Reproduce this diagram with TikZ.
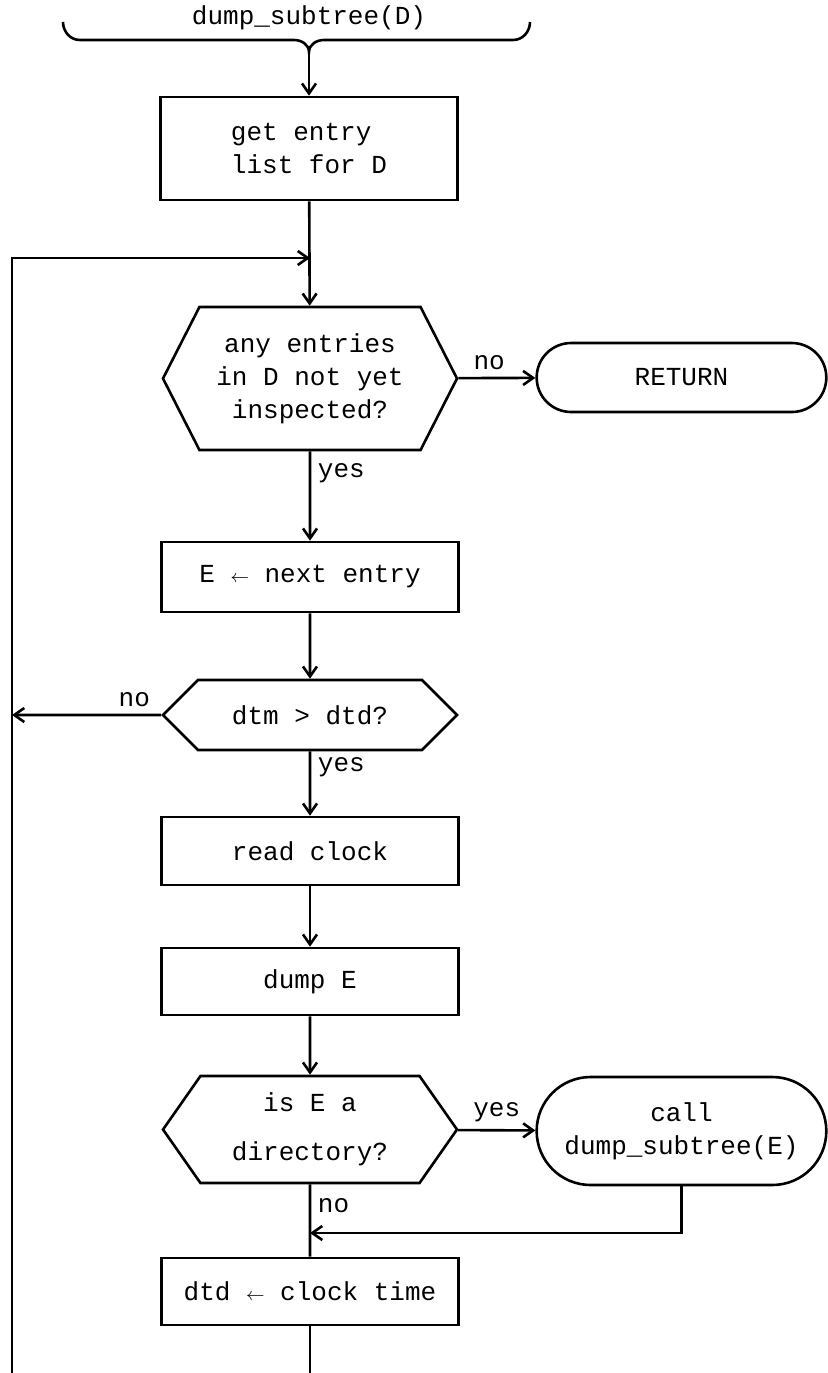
\documentclass[tikz,border=0pt]{standalone}
\usepackage{fontspec}
\setmonofont{Liberation Mono}
\usepackage{tikz}
\usetikzlibrary{arrows.meta,shapes.misc,shapes.symbols}
\tikzset{auto,
  box/.style={draw, rectangle, minimum width=148.5pt, align=center},
  test/.style={draw, signal, signal to=east and west, minimum width=147pt, align=center},
  term/.style={draw, rounded rectangle, minimum width=151.5pt, align=center}}

\begin{document}
\begin{tikzpicture}[x=0.5pt, y=-0.5pt, line width=1.3pt,
    font=\ttfamily\fontsize{13}{16.5}\selectfont,
    >={Straight Barb[length=5pt,width=7pt]}]

  \useasboundingbox (0,0) rectangle (827,1373);

  % entry brace
  \node (name) at (309,18) {dump\_subtree(D)};
  \draw (63,22) to[out=-90,in=180] (80,40) -- (294,40) to[out=0,in=90] (309,52)
        to[out=90,in=180] (324,40) -- (513,40) to[out=0,in=-90] (530,22);
  \coordinate (tip) at (309,52);

  \node (list) [box, minimum height=51.5pt, align=left] at (309,148.5) {get entry\\list for D};

  \node (any) [test, minimum height=71.5pt, signal pointer angle=126] at (310,378.5)
        {any entries\\in D not yet\\inspected?};
  \node (ret) [term, minimum height=34.5pt] at (681.5,377.5) {RETURN};

  \node (next) [box, minimum height=35pt] at (310,577) {E {\small$\leftarrow$} next entry};

  \node (dtm) [test, minimum height=35pt, signal pointer angle=90] at (310,715) {dtm > dtd?};

  \node (read) [box, minimum height=34pt] at (310,851) {read clock};
  \node (dump) [box, minimum height=33.5pt] at (310,981.5) {dump E};

  \node (dir) [test, minimum height=53.5pt, signal pointer angle=110] at (310,1129.5)
        {is E a\\[8pt]directory?};
  \node (call) [term, minimum height=54pt] at (681.5,1131) {call\\dump\_subtree(E)};

  \node (clk) [box, minimum height=33.5pt] at (310,1291.5) {dtd {\small$\leftarrow$} clock time};

  \coordinate (merge) at (310,258);
  \coordinate (loop) at (12,1373);
  \coordinate (back) at (12,715);
  \coordinate (join) at (310,1233);
  \coordinate (out) at (310,1373);

  \draw [->] (tip) to (list);
  \draw [->] (list) to (any);
  \draw [->] (loop) |- (merge);
  \draw [->] (any) to node [pos=0.4] {no} (ret);
  \draw [->] (any) to node [pos=0.25] {yes} (next);
  \draw [->] (next) to (dtm);
  \draw [->] (dtm) to node [pos=0.18, above] {no} (back);
  \draw [->] (dtm) to node [pos=0.25] {yes} (read);
  \draw [->] (read) to (dump);
  \draw [->] (dump) to (dir);
  \draw [->] (dir) to node {yes} (call);
  \draw [->] (call) |- (join);
  \draw (dir) to node [pos=0.3] {no} (clk);
  \draw (clk) to (out);

\end{tikzpicture}
\end{document}
